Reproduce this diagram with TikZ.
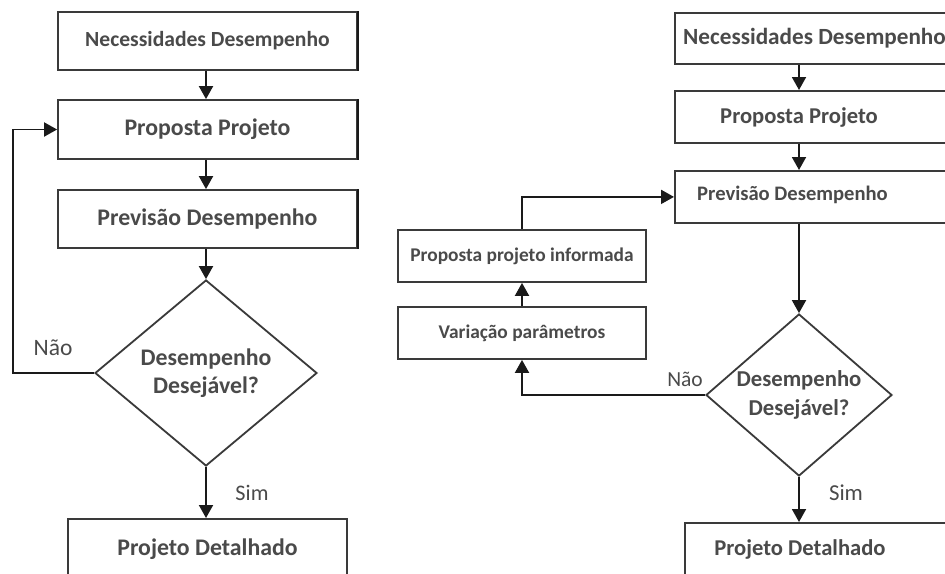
\documentclass[tikz,border=0pt]{standalone}
\usepackage{fontspec}
\setmainfont{Carlito}
\usetikzlibrary{arrows.meta,shapes.geometric}
\definecolor{ink}{HTML}{4A4A4A}
\definecolor{edge}{HTML}{3A3A3A}
\definecolor{wire}{HTML}{1A1A1A}

\begin{document}
\begin{tikzpicture}[x=1pt,y=-1pt,
  box/.style={draw=edge, line width=1.8pt, inner sep=0pt, rectangle},
  rim/.style={draw=wire, line width=2.8pt},
  txt/.style={text=ink, inner sep=0pt, font=\fontsize{#1}{#1}\selectfont\bfseries},
  txt/.default=23.8,
  tag/.style={text=ink, inner sep=0pt, font=\fontsize{#1}{#1}\selectfont},
  tag/.default=22.5,
  decision/.style={diamond, draw=edge, line width=1.8pt, inner sep=0pt, aspect=1.2,
    text=ink, align=center},
  arr/.style={draw=wire, line width=1.9pt, -{Triangle[length=13pt,width=14pt]}},
]
\clip (0,0) rectangle (945,573);
\fill[white] (0,0) rectangle (945,573);

% ---------------- classic design loop ----------------
\node[box, minimum width=299pt, minimum height=58pt] (L1) at (207.5,41) {};
\node[txt=21.6] (L1t) at (L1.center) {Necessidades Desempenho};
\node[box, minimum width=299pt, minimum height=59pt] (L2) at (207.5,129.5) {};
\node[txt] (L2t) at (L2.center) {Proposta Projeto};
\node[box, minimum width=299pt, minimum height=58pt] (L3) at (207.5,219) {};
\node[txt] (L3t) at (L3.center) {Previsão Desempenho};
\foreach \b in {L1,L2,L3}
  \draw[rim] (\b.north east) -- (\b.south east);

\node[decision, minimum width=222pt, minimum height=186pt,
  font=\fontsize{23.8}{28.5}\selectfont\bfseries] (LD) at (206,373)
  {Desempenho\\Desejável?};

\node[box, minimum width=279pt, minimum height=64pt, anchor=north] (L4) at (207.5,518) {};
\node[txt] (L4t) at (207.5,549) {Projeto Detalhado};

\draw[arr] (L1.south -| LD.north) -- (L2.north -| LD.north);
\draw[arr] (L2.south -| LD.north) -- (L3.north -| LD.north);
\draw[arr] (L3.south -| LD.north) -- (LD.north);
\draw[arr] (LD.south) -- (L4.north -| LD.south);
\coordinate (Lbend) at (13,373);
\draw[arr] (LD.west) -- (Lbend) |- (L2.west);
\node[tag=23.5] (Lno) at (53,348) {Não};
\node[tag=22.2] (Lyes) at (252,493) {Sim};

% ---------------- informed design loop ----------------
\node[box, minimum width=300pt, minimum height=51pt, anchor=north west] (R1) at (674,12) {};
\node[txt=23.2, anchor=west] (R1t) at (683,38.5) {Necessidades Desempenho};
\node[box, minimum width=300pt, minimum height=52pt, anchor=north west] (R2) at (674,90) {};
\node[txt=22.6] (R2t) at (799,117) {Proposta Projeto};
\node[box, minimum width=300pt, minimum height=52pt, anchor=north west] (R3) at (674,170) {};
\node[txt=20.6] (R3t) at (792.5,195) {Previsão Desempenho};

\node[decision, minimum width=186pt, minimum height=162pt,
  font=\fontsize{22.7}{29}\selectfont\bfseries] (RD) at (799,395)
  {Desempenho\\Desejável?};

\node[box, minimum width=300pt, minimum height=64pt, anchor=north west] (R4) at (684,522) {};
\node[txt=22.6] (R4t) at (800,549) {Projeto Detalhado};

\node[box, minimum width=248pt, minimum height=52pt] (RP) at (522,256) {};
\node[txt=19.4] (RPt) at (RP.center) {Proposta projeto informada};
\node[box, minimum width=248pt, minimum height=52pt] (RV) at (522,333) {};
\node[txt=19.4] (RVt) at (RV.center) {Variação parâmetros};

\draw[arr] (R1.south -| RD.north) -- (R2.north -| RD.north);
\draw[arr] (R2.south -| RD.north) -- (R3.north -| RD.north);
\draw[arr] (R3.south -| RD.north) -- (RD.north);
\draw[arr] (RD.south) -- (R4.north -| RD.south);
\draw[arr] (RD.west) -| (RV.south);
\draw[arr] (RV.north) -- (RP.south);
\draw[arr] (RP.north) |- (R3.west);
\node[tag=21.5] (Rno) at (685,379) {Não};
\node[tag=22.8] (Ryes) at (846,493) {Sim};
\end{tikzpicture}
\end{document}
